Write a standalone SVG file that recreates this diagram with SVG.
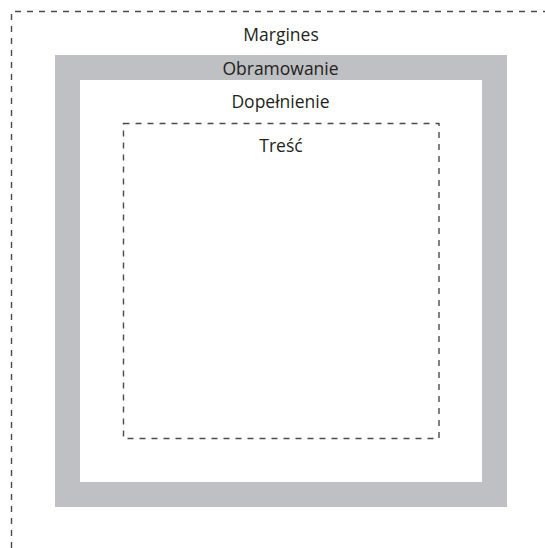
<svg xmlns="http://www.w3.org/2000/svg" width="545" height="548" viewBox="0 0 545 548">
<style>
.dash{fill:none;stroke:#4a4a4a;stroke-width:1.4;stroke-dasharray:6 6}
.lbl{font-family:"Open Sans","Noto Sans",sans-serif;font-size:17.5px;fill:#231f20;text-anchor:middle}
</style>
<rect width="545" height="548" fill="#fff"/>
<g id="margin">
<path class="dash" d="M11.5 548 V11.5 H545"/>
<text class="lbl" x="281" y="40.5">Margines</text>
</g>
<g id="border">
<rect x="67.5" y="67.5" width="427" height="427" fill="none" stroke="#bfc0c3" stroke-width="25"/>
<text class="lbl" x="280.5" y="75">Obramowanie</text>
</g>
<g id="padding">
<text class="lbl" x="280.5" y="108">Dopełnienie</text>
</g>
<g id="content">
<rect class="dash" x="123.5" y="123.5" width="315.5" height="315"/>
<text class="lbl" x="281" y="152">Treść</text>
</g>
<g id="connectors"></g>
</svg>
